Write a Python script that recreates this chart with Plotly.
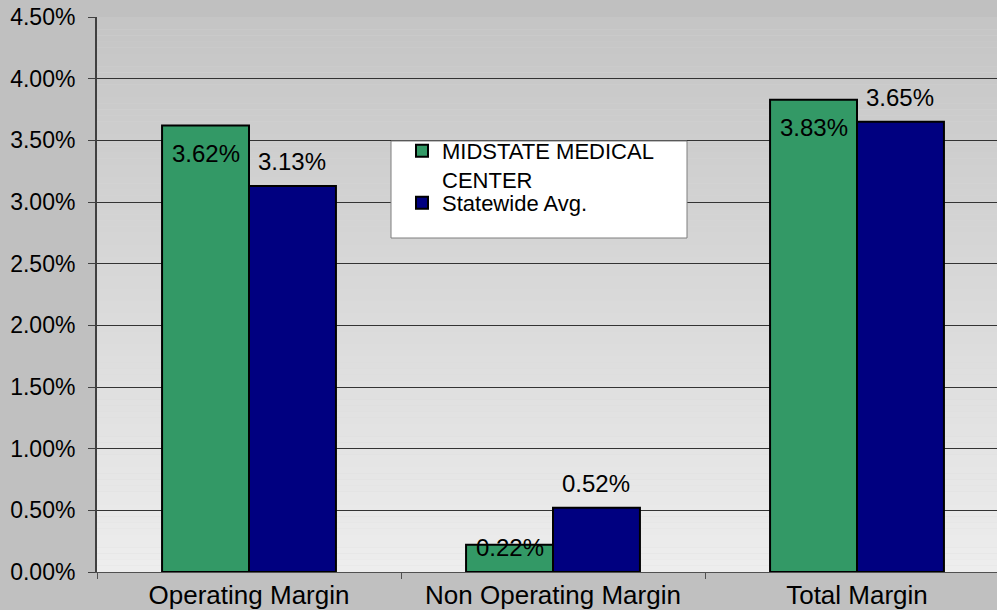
import plotly.graph_objects as go

categories = ["Operating Margin", "Non Operating Margin", "Total Margin"]
midstate = [0.0362, 0.0022, 0.0383]
statewide = [0.0313, 0.0052, 0.0365]
series_names = ["MIDSTATE MEDICAL<br>CENTER", "Statewide Avg."]
label_midstate = ["3.62%", "0.22%", "3.83%"]
label_statewide = ["3.13%", "0.52%", "3.65%"]

W, H = 997, 610
ML, MR, MT, MB = 97, 0, 17, 610 - 572
plot_w = W - ML - MR
plot_h = H - MT - MB
cat_px = 304.0
x_range = [-0.5, -0.5 + plot_w / cat_px]
bargap = 0.428
FONT = "Liberation Sans, Arial, sans-serif"


def px_x(px):
    return (px - ML) / plot_w


def px_y(py):
    return (H - MB - py) / plot_h


fig = go.Figure()
fig.add_trace(go.Bar(x=categories, y=midstate, name=series_names[0], legend="legend",
                     marker=dict(color="#339966", line=dict(color="#000000", width=2))))
fig.add_trace(go.Bar(x=categories, y=statewide, name=series_names[1], legend="legend2",
                     marker=dict(color="#000080", line=dict(color="#000000", width=2))))

# gradient background of plot area
N = 90
top_c, bot_c = 197, 237
shapes = []
for i in range(N):
    f = i / (N - 1)
    v = round(bot_c + (top_c - bot_c) * f)
    shapes.append(dict(type="rect", xref="x domain", yref="y domain",
                       x0=0, x1=1, y0=i / N, y1=min(1, (i + 1.02) / N),
                       fillcolor=f"rgb({v},{v},{v})", line=dict(width=0), layer="below"))
# legend box
shapes.append(dict(type="rect", xref="paper", yref="paper",
                   x0=px_x(391), x1=px_x(687), y0=px_y(238), y1=px_y(141),
                   fillcolor="#ffffff", line=dict(color="#7f7f7f", width=1), layer="above"))

# data labels
half = (1 - bargap) * cat_px / 4
annotations = []
for c, v, t in zip(categories, midstate, label_midstate):
    annotations.append(dict(x=c, y=v, xref="x", yref="y", text=t, showarrow=False,
                            xshift=-half, yshift=-28 if v > 0.01 else -3,
                            font=dict(family=FONT, size=24, color="#000000")))
for c, v, t in zip(categories, statewide, label_statewide):
    annotations.append(dict(x=c, y=v, xref="x", yref="y", text=t, showarrow=False,
                            xshift=half, yshift=24,
                            font=dict(family=FONT, size=24, color="#000000")))

legend_common = dict(xanchor="left", yanchor="top", bgcolor="rgba(0,0,0,0)",
                     borderwidth=0, font=dict(family=FONT, size=22, color="#000000"),
                     itemwidth=30, valign="top")

fig.update_layout(
    width=W, height=H,
    margin=dict(l=ML, r=MR, t=MT, b=MB, pad=0, autoexpand=False),
    paper_bgcolor="#c0c0c0",
    plot_bgcolor="#d8d8d8",
    barmode="group", bargap=bargap, bargroupgap=0,
    font=dict(family=FONT, size=22, color="#000000"),
    shapes=shapes,
    annotations=annotations,
    showlegend=True,
    legend=dict(x=px_x(402), y=px_y(130), **legend_common),
    legend2=dict(x=px_x(402), y=px_y(182), **legend_common),
    xaxis=dict(range=x_range, showline=True, linecolor="#505050", linewidth=1,
               ticks="outside", tickson="boundaries", ticklen=6, tickcolor="#505050",
               tickfont=dict(family=FONT, size=26), showgrid=False, fixedrange=True,
               automargin=False),
    yaxis=dict(range=[0, 0.0450001], tickvals=[i * 0.005 for i in range(10)],
               tickformat=".2%", showline=True,
               linecolor="#404040", linewidth=2, ticks="outside", ticklen=7,
               tickcolor="#404040", tickfont=dict(family=FONT, size=23),
               showgrid=True, gridcolor="#333333", gridwidth=1, zeroline=False,
               ticklabelstandoff=8, ticklabeloverflow="allow", fixedrange=True,
               automargin=False),
)

fig.write_html("out.html", config={"displayModeBar": False},
               post_script="document.body.style.margin='0px';document.body.style.overflow='hidden';")
